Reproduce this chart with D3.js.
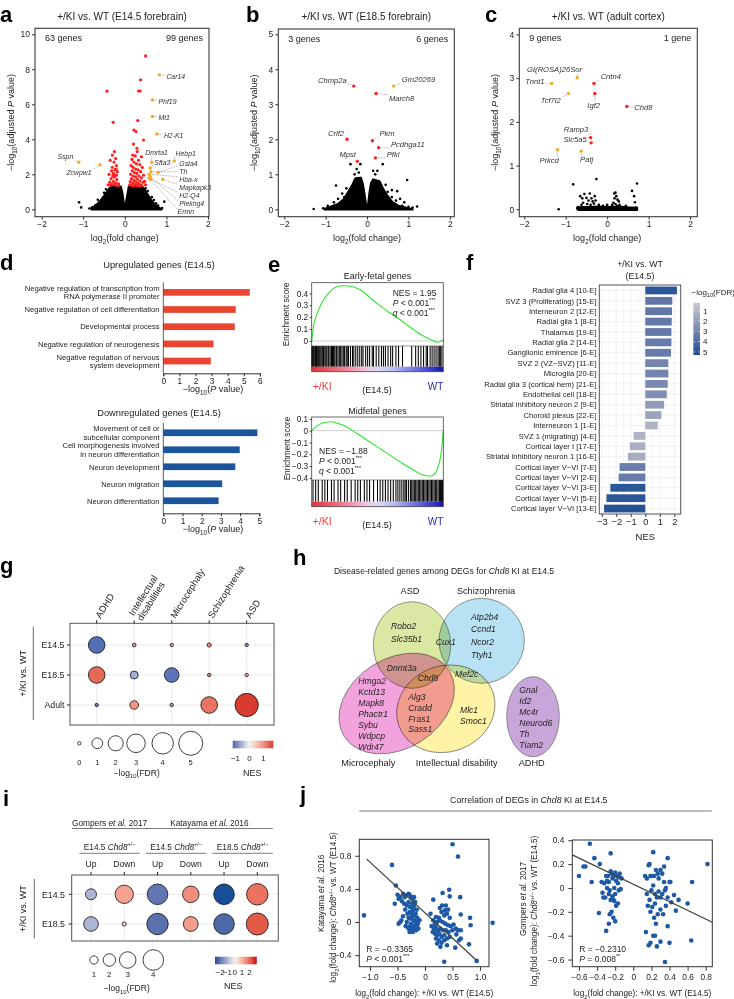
<!DOCTYPE html>
<html>
<head>
<meta charset="utf-8">
<script src="https://cdn.jsdelivr.net/npm/d3@7/dist/d3.min.js"></script>
<style>
  body { margin: 0; background: #fff; }
</style>
</head>
<body>
<svg id="fig" width="734" height="999"></svg>
<script>
// ---------------- data ----------------
// a-c volcano plots: [log2FC, -log10 adj P]
const aCloud = [[-0.82,0],[-0.75,0.12],[-0.66,0.3],[-0.58,0.5],[-0.5,0.75],[-0.43,1.0],[-0.37,1.2],[-0.32,1.3],[-0.1,1.3],[-0.06,0.9],[-0.035,0.5],[-0.015,0.15],[0,0.03],[0.015,0.15],[0.04,0.5],[0.07,0.9],[0.1,1.3],[0.42,1.3],[0.48,1.1],[0.56,0.8],[0.64,0.5],[0.72,0.28],[0.8,0.12],[0.88,0],[-0.82,0]];
const aBlack = [[-1.1,0.4],[-1.05,0.11],[-0.79,0.11],[0.95,0.44],[0.7,0.53],[-0.65,0.55],[-0.6,0.35],[-0.7,0.25],[0.75,0.35],[0.8,0.22],[0.65,0.7],[-0.5,0.95],[0.55,1.05],[-0.45,1.15],[0.5,1.2],[-0.85,0.05],[0.9,0.08]];
const aRed = [[-0.43,6.75],[-0.28,4.97],[-0.25,3.3],[-0.3,3.1],[-0.22,2.9],[-0.35,2.8],[-0.26,2.7],[-0.2,2.5],[-0.3,2.4],[-0.24,2.25],[-0.32,2.2],[-0.18,2.15],[-0.28,2.05],[-0.38,2.0],[-0.2,1.95],[-0.25,1.85],[-0.33,1.75],[-0.19,1.7],[-0.27,1.6],[-0.36,1.55],[-0.22,1.5],[-0.3,1.45],[-0.15,1.45],[-0.4,1.4],[-0.17,1.35],[-0.24,1.4],[-0.34,1.38],[-0.29,1.9],[-0.21,2.3],[-0.26,2.0],
  [0.5,8.76],[0.38,7.39],[0.33,6.76],[0.37,6.76],[0.31,5.07],[0.22,4.53],[0.27,4.44],[0.45,3.96],[0.21,3.73],[0.29,3.49],[0.3,3.3],[0.19,3.1],[0.25,3.05],[0.4,3.0],[0.17,2.85],[0.33,2.8],[0.22,2.7],[0.28,2.6],[0.36,2.55],[0.15,2.5],[0.2,2.4],[0.42,2.4],[0.26,2.3],[0.32,2.25],[0.18,2.2],[0.38,2.15],[0.23,2.1],[0.29,2.05],[0.14,2.0],[0.45,1.95],[0.2,1.9],[0.34,1.9],[0.26,1.85],[0.4,1.8],[0.16,1.75],[0.3,1.72],[0.22,1.65],[0.36,1.62],[0.13,1.58],[0.27,1.55],[0.44,1.55],[0.19,1.5],[0.32,1.48],[0.24,1.42],[0.38,1.42],[0.15,1.38],[0.29,1.36],[0.41,1.35],[0.21,1.34],[0.35,1.33],[0.48,1.6],[0.5,1.4],[0.12,1.4]];
// labelled genes: [name, log2FC, -log10P, colour class]
const aGenes = [["Car14",0.83,7.68,"o"],["Phf19",0.665,6.25,"o"],["Mt1",0.665,5.3,"o"],["H2-K1",0.77,4.3,"o"],["Dmrta1",0.65,2.69,"o"],["Hebp1",1.19,2.76,"o"],["Sfta3",0.61,2.36,"o"],["Gsta4",0.8,2.1,"o"],["Th",0.63,2.15,"o"],["Hba-x",0.585,2.0,"o"],["Mapkapk3",0.914,1.71,"o"],["H2-Q4",0.585,1.77,"o"],["Plekhg4",0.61,1.87,"o"],["Ermn",0.625,1.71,"o"],["Sspn",-1.106,2.69,"o"],["Zcwpw1",-0.6,2.55,"o"]];
const aLabelAt = {"Car14":[1.0,7.45,"start"],"Phf19":[0.81,6.02,"start"],"Mt1":[0.81,5.1,"start"],"H2-K1":[0.94,4.08,"start"],"Dmrta1":[0.766,3.1,"middle"],"Hebp1":[1.22,3.05,"start"],"Sfta3":[0.709,2.55,"start"],"Gsta4":[1.31,2.5,"start"],"Th":[1.31,2.04,"start"],"Hba-x":[1.31,1.58,"start"],"Mapkapk3":[1.31,1.12,"start"],"H2-Q4":[1.31,0.66,"start"],"Plekhg4":[1.31,0.2,"start"],"Ermn":[1.27,-0.26,"start"],"Sspn":[-1.24,2.9,"end"],"Zcwpw1":[-0.797,1.99,"end"]};

const bCloud = [[-1.05,0],[-0.9,0.06],[-0.7,0.15],[-0.55,0.3],[-0.45,0.5],[-0.35,0.7],[-0.28,0.88],[-0.15,0.9],[-0.1,0.7],[-0.06,0.4],[-0.03,0.15],[0,0.05],[0.03,0.15],[0.06,0.45],[0.1,0.75],[0.15,0.85],[0.3,0.8],[0.38,0.6],[0.48,0.4],[0.6,0.22],[0.75,0.1],[0.95,0.04],[1.1,0],[-1.05,0]];
const bBlack = [[-1.29,0.01],[-1.06,0.03],[-0.9,0.03],[-0.75,0.68],[-0.4,1.29],[-0.16,1.29],[0.38,1.29],[0.97,0.84],[0.73,0.52],[0.6,0.55],[0.85,0.1],[1.0,0.07],[1.21,0.08],[1.1,0.05],[-0.6,0.45],[-0.55,0.35],[-0.5,0.6],[-0.3,1.0],[-0.2,1.05],[-0.25,1.15],[0.2,1.0],[0.25,1.1],[0.15,1.1],[0.45,0.7],[0.5,0.5],[0.6,0.35],[0.7,0.25],[-0.8,0.2],[-0.7,0.3],[-0.95,0.1],[0.9,0.2],[0.8,0.3]];
const bGenes = [["Chmp2a",-0.32,3.52,"r"],["Gm20269",0.645,3.52,"o"],["March8",0.218,3.31,"r"],["Crlf2",-0.484,2.0,"r"],["Pkm",0.129,1.96,"r"],["Pcdhga11",0.282,1.76,"r"],["Pfkl",0.2,1.47,"r"],["Mpst",-0.234,1.37,"r"]];
const bLabelAt = {"Chmp2a":[-0.49,3.62,"end"],"Gm20269":[0.84,3.63,"start"],"March8":[0.53,3.1,"start"],"Crlf2":[-0.556,2.1,"end"],"Pkm":[0.3,2.09,"start"],"Pcdhga11":[0.58,1.77,"start"],"Pfkl":[0.476,1.49,"start"],"Mpst":[-0.27,1.49,"end"]};

const cCloud = [[-0.72,-0.01],[-0.72,0.04],[-0.45,0.05],[-0.2,0.06],[0,0.05],[0.25,0.06],[0.5,0.04],[0.72,0.03],[0.72,-0.01],[-0.72,-0.01]];
const cBlack = [[-1.17,0.0],[-0.82,0.57],[-0.26,0.69],[0.72,0.59],[0.6,0.42],[0.65,0.3],[0.67,0.16],[-0.65,0.3],[-0.6,0.25],[-0.55,0.35],[-0.5,0.26],[-0.45,0.2],[-0.42,0.36],[-0.38,0.25],[-0.35,0.18],[-0.3,0.3],[-0.58,0.15],[-0.48,0.12],[-0.4,0.1],[-0.32,0.13],[-0.62,0.1],[-0.28,0.2],[-0.52,0.05],[0.17,0.36],[0.2,0.38],[0.22,0.3],[0.18,0.25],[0.25,0.22],[0.28,0.18],[0.15,0.15],[0.2,0.12],[0.3,0.1],[0.24,0.08],[0.12,0.1],[-0.2,0.1],[-0.1,0.08],[0.0,0.1],[0.45,0.08],[-0.7,0.05],[0.7,0.04]];
const cGenes = [["Gt(ROSA)26Sor",-0.724,3.01,"o"],["Tnnt1",-1.336,2.88,"o"],["Tcf7l2",-0.934,2.65,"o"],["Cntn4",-0.32,2.88,"r"],["Igf2",-0.298,2.65,"r"],["Chd8",0.475,2.35,"r"],["Ramp3",-0.40,1.64,"r"],["Slc5a5",-0.386,1.52,"r"],["Prkcd",-1.2,1.36,"o"],["Patj",-0.628,1.33,"o"]];
const cLabelAt = {"Gt(ROSA)26Sor":[-1.27,3.13,"middle"],"Tnnt1":[-1.51,2.87,"end"],"Tcf7l2":[-1.12,2.43,"end"],"Cntn4":[-0.157,2.98,"start"],"Igf2":[-0.326,2.32,"middle"],"Chd8":[0.654,2.27,"start"],"Ramp3":[-0.455,1.76,"end"],"Slc5a5":[-0.495,1.54,"end"],"Prkcd":[-1.40,1.06,"middle"],"Patj":[-0.495,1.07,"middle"]};

// d GO terms
const dUpTerms = [["Negative regulation of transcription from","RNA polymerase II promoter"],["Negative regulation of cell differentiation"],["Developmental process"],["Negative regulation of neurogenesis"],["Negative regulation of nervous","system development"]];
const dUpVals = [5.37, 4.5, 4.44, 3.12, 2.95];
const dDownTerms = [["Movement of cell or","subcellular component"],["Cell morphogenesis involved","in neuron differentiation"],["Neuron development"],["Neuron migration"],["Neuron differentiation"]];
const dDownVals = [4.9, 3.98, 3.75, 3.07, 2.88];

// e GSEA running enrichment score [rank fraction, ES] and gene hits
const eEarlyES = [[0,0],[0.013,0.12],[0.038,0.22],[0.076,0.32],[0.127,0.40],[0.177,0.45],[0.228,0.465],[0.278,0.462],[0.329,0.45],[0.38,0.423],[0.43,0.378],[0.48,0.33],[0.53,0.288],[0.58,0.246],[0.633,0.21],[0.684,0.17],[0.734,0.126],[0.785,0.087],[0.835,0.05],[0.886,0.022],[0.924,0.003],[0.949,-0.008],[0.975,-0.006],[1,0.014]];
const eEarlyHits = [0,0.005,0.012,0.018,0.025,0.03,0.036,0.042,0.05,0.055,0.062,0.07,0.078,0.085,0.09,0.1,0.108,0.115,0.125,0.13,0.14,0.15,0.158,0.165,0.175,0.185,0.19,0.2,0.21,0.22,0.23,0.24,0.25,0.262,0.27,0.28,0.295,0.31,0.32,0.335,0.35,0.365,0.38,0.39,0.41,0.425,0.44,0.46,0.47,0.49,0.51,0.53,0.545,0.56,0.58,0.6,0.615,0.64,0.66,0.69,0.76,0.79,0.81,0.83,0.85,0.87,0.88,0.9,0.915,0.93,0.945,0.96,0.97,0.98,0.99];
const eMidES = [[0,0.003],[0.089,0.067],[0.152,0.076],[0.203,0.06],[0.253,0.04],[0.304,0.005],[0.38,-0.05],[0.456,-0.106],[0.532,-0.162],[0.608,-0.218],[0.684,-0.274],[0.76,-0.325],[0.81,-0.358],[0.861,-0.38],[0.899,-0.386],[0.937,-0.364],[0.962,-0.3],[0.98,-0.218],[0.992,-0.106],[1,0]];
const eMidHits = [0.01,0.03,0.05,0.08,0.1,0.12,0.15,0.17,0.2,0.22,0.25,0.27,0.3,0.33,0.35,0.37,0.4,0.42,0.44,0.47,0.5,0.52,0.54,0.56,0.58,0.6,0.62,0.64,0.655,0.67,0.685,0.7,0.71,0.72,0.735,0.75,0.76,0.77,0.78,0.79,0.8,0.81,0.82,0.83,0.84,0.85,0.86,0.87,0.88,0.89,0.9,0.91,0.92,0.93,0.94,0.95,0.96,0.97,0.975,0.98,0.985,0.99,0.995];

// f cell-type enrichment
const fCats = ["Radial glia 4 [10-E]","SVZ 3 (Proliferating) [15-E]","Interneuron 2 [12-E]","Radial glia 1 [8-E]","Thalamus [19-E]","Radial glia 2 [14-E]","Ganglionic eminence [6-E]","SVZ 2 (VZ\u2212SVZ) [11-E]","Microglia [20-E]","Radial glia 3 (cortical hem) [21-E]","Endothelial cell [18-E]","Striatal inhibitory neuron 2 [9-E]","Choroid plexus [22-E]","Interneuron 1 [1-E]","SVZ 1 (migrating) [4-E]","Cortical layer I [17-E]","Striatal inhibitory neuron 1 [16-E]","Cortical layer V\u2212VI [7-E]","Cortical layer V\u2212VI [2-E]","Cortical layer V\u2212VI [3-E]","Cortical layer V\u2212VI [5-E]","Cortical layer V\u2212VI [13-E]"];
const fNES = [2.18,1.86,1.84,1.82,1.8,1.8,1.77,1.59,1.59,1.55,1.48,1.3,1.11,0.86,-0.8,-1.07,-1.2,-1.77,-1.84,-2.41,-2.68,-2.84];
const fFDR = [5.0,3.6,3.6,3.5,3.5,3.4,3.4,3.0,3.0,2.8,2.6,2.1,1.7,1.1,1.1,1.3,1.4,3.3,3.4,5.0,5.0,5.1];

// g disease gene sets
const gCols = ["ADHD","Intellectual disabilities","Microcephaly","Schizophrenia","ASD"];
const gColLines = [["ADHD"],["Intellectual","disabilities"],["Microcephaly"],["Schizophrenia"],["ASD"]];
const gRows = ["E14.5","E18.5","Adult"];
const gFDR = [[2.4,0.12,0.1,0.15,0.1],[2.4,0.55,1.86,0.06,0.06],[0.06,0.65,0.08,2.4,4.7]];
const gNES = [[-1.15,0.9,0.8,1.0,-0.8],[1.35,-0.6,-1.1,1.0,0.7],[-1.0,0.95,-0.6,1.25,1.7]];
const gSizeLegend = [0,1,2,3,4,5];
const gNesTicks = [-1,0,1];

// h Venn gene lists
const hSets = ["ASD","Schizophrenia","Microcephaly","Intellectual disability","ADHD"];
const hGenes = [
  {genes:["Robo2","Slc35b1"], region:"ASD"},
  {genes:["Cux1"], region:"ASD+Schizophrenia"},
  {genes:["Atp2b4","Ccnd1","Ncor2","Ttyh1"], region:"Schizophrenia"},
  {genes:["Dnmt3a"], region:"ASD+Microcephaly"},
  {genes:["Chd8"], region:"ASD+Microcephaly+ID"},
  {genes:["Mef2c"], region:"Schizophrenia+ID"},
  {genes:["Hmga2","Kctd13","Mapk8","Phactr1","Sybu","Wdpcp","Wdr47"], region:"Microcephaly"},
  {genes:["Alg3","Cradd","Fras1","Sass1"], region:"Microcephaly+ID"},
  {genes:["Mlc1","Smoc1"], region:"ID"},
  {genes:["Gnal","Id2","Mc4r","Neurod6","Th","Tiam2"], region:"ADHD"}
];

// i comparison with published Chd8+/- data
const iCols = ["Up","Down","Up","Down","Up","Down"];
const iRows = ["E14.5","E18.5"];
const iFDR = [[1.66,3.45,4.0,3.0,4.0,4.2],[2.55,0,4.2,2.6,4.0,4.35]];
const iNES = [[-1.0,1.25,-2.0,1.5,-2.75,1.9],[-1.0,0.7,-2.1,1.3,-2.25,2.2]];
const iSizeLegend = [1,2,3,4];
const iNesTicks = [-2,-1,0,1,2];

// j correlation scatter [KI log2FC, published log2FC]
const jKat = [[-0.6,0.69],[-0.53,0.44],[-0.55,0.22],[-0.5,0.33],[-0.48,0.28],[-0.45,0.3],[-0.4,0.34],[-0.35,0.32],[-0.3,0.34],[-0.28,0.33],[-0.25,0.3],[-0.22,0.28],[-0.2,0.3],[-0.42,0.25],[-0.38,0.22],[-0.33,0.2],[-0.3,0.24],[-0.27,0.18],[-0.24,0.22],[-0.2,0.2],[-0.18,0.24],[-0.15,0.15],[-0.36,0.15],[-0.32,0.1],[-0.28,0.12],[-0.25,0.1],[-0.22,0.14],[-0.2,0.08],[-0.17,0.1],[-0.14,0.05],[-0.3,0.05],[-0.26,0.04],[-0.23,0.06],[-0.2,0.02],[-0.17,0.0],[-0.13,-0.02],[-0.4,0.07],[-0.45,0.0],[-0.48,-0.02],[-0.43,0.02],[-0.35,-0.05],[-0.3,-0.08],[-0.27,-0.05],[-0.24,-0.08],[-0.2,-0.1],[-0.16,-0.1],[-0.12,-0.08],[-0.28,-0.12],[-0.22,-0.12],[-0.33,0.0],[-0.19,-0.05],[-0.15,-0.06],[-0.25,-0.02],[-0.1,0.02],[-0.37,0.3],[-0.21,0.17],[-1.11,0.08],
  [0.5,0.94],[0.6,0.79],[0.44,0.39],[0.32,0.35],[0.45,0.31],[0.15,0.27],[0.64,0.3],[0.38,0.2],[0.42,0.15],[0.3,0.12],[0.35,0.08],[0.4,0.1],[0.45,0.05],[0.25,0.05],[0.2,0.06],[0.15,0.02],[0.18,-0.02],[0.22,0.0],[0.27,0.02],[0.32,0.0],[0.37,-0.02],[0.42,-0.04],[0.47,-0.05],[0.52,-0.03],[0.12,-0.05],[0.16,-0.08],[0.2,-0.06],[0.24,-0.1],[0.28,-0.08],[0.33,-0.1],[0.38,-0.1],[0.43,-0.12],[0.5,-0.1],[0.56,-0.08],[0.6,-0.1],[0.65,-0.1],[0.18,-0.14],[0.22,-0.16],[0.26,-0.14],[0.3,-0.18],[0.35,-0.16],[0.4,-0.2],[0.45,-0.18],[0.2,-0.2],[0.25,-0.22],[0.3,-0.25],[0.35,-0.22],[0.28,-0.3],[0.22,-0.26],[0.4,-0.28],[0.55,-0.31],[0.62,-0.22],[0.65,-0.2],[0.8,-0.27],[0.82,0.05],[0.83,-0.04],[0.65,0.09],[0.35,-0.48],[0.94,-0.47],[1.23,-0.01],[0.1,0.1],[0.27,0.17],[0.31,0.2],[0.57,-0.15],[0.36,0.14],[0.2,-0.1],[0.14,-0.12]];
const jKatFit = {slope: -0.613, intercept: 0.110, from: -1.06, to: 0.93};
const jGom = [[-0.6,0.1],[-0.55,0.18],[-0.53,0.18],[-0.48,0.37],[-0.46,0.05],[-0.43,0.25],[-0.37,0.2],[-0.35,0.05],[-0.33,-0.08],[-0.3,-0.36],[-0.28,0.1],[-0.27,0.05],[-0.26,-0.02],[-0.25,0.29],[-0.24,0.12],[-0.23,0.08],[-0.22,0.1],[-0.21,0.0],[-0.2,-0.05],[-0.19,0.06],[-0.18,0.1],[-0.17,0.04],[-0.16,-0.02],[-0.15,0.12],[-0.14,-0.01],[-0.13,0.08],[-0.29,0.0],[-0.27,-0.05],[-0.25,-0.1],[-0.23,-0.07],[-0.21,-0.11],[-0.19,-0.15],[-0.17,-0.13],[-0.24,-0.2],[-0.22,-0.25],[-0.2,-0.28],[-0.26,-0.22],[-0.31,-0.08],[-0.34,-0.04],[-0.32,0.04],[-0.3,0.1],[-0.25,0.14],[-0.2,0.13],[-0.16,0.09],[-0.27,-0.3],[-0.22,-0.1],[-0.38,-0.21],[-0.29,0.06],
  [0.13,0.1],[0.15,0.08],[0.17,0.19],[0.18,0.2],[0.2,0.1],[0.22,0.3],[0.23,0.1],[0.25,0.15],[0.27,0.12],[0.3,0.15],[0.32,0.12],[0.34,0.18],[0.38,0.25],[0.15,-0.05],[0.18,-0.1],[0.2,-0.02],[0.22,0.02],[0.24,-0.05],[0.26,-0.08],[0.28,-0.03],[0.3,-0.08],[0.32,-0.05],[0.34,0.05],[0.36,0.0],[0.38,-0.08],[0.4,0.05],[0.42,-0.12],[0.45,-0.06],[0.47,-0.19],[0.5,-0.1],[0.16,-0.15],[0.19,-0.2],[0.21,-0.16],[0.23,-0.25],[0.25,-0.3],[0.27,-0.22],[0.3,-0.18],[0.33,-0.22],[0.36,-0.15],[0.38,-0.32],[0.14,-0.37],[0.17,-0.48],[0.19,-0.46],[0.22,-0.4],[0.24,-0.4],[0.26,-0.49],[0.3,-0.45],[0.35,-0.62],[0.4,-0.46],[0.64,-0.44],[0.6,-0.13],[0.65,0.05],[0.82,0.2],[0.41,0.05],[0.28,0.08],[0.19,0.1],[0.24,-0.13],[0.35,-0.02]];
const jGomFit = {slope: -0.365, intercept: 0.031, from: -0.674, to: 0.873};

// ---------------- helpers ----------------
const svg = d3.select("#fig").attr("font-family", "'Liberation Sans', Arial, Helvetica, sans-serif");
const INK = "#222";

// text with rich segments: [["log"],["10","sub"],["P","i"]]
function txt(g, x, y, s, o = {}) {
  const size = o.size || 8.5;
  const t = g.append("text").attr("x", x).attr("y", y)
    .attr("font-size", size).attr("fill", o.fill || INK)
    .attr("text-anchor", o.anchor || "start");
  if (o.weight) t.attr("font-weight", o.weight);
  if (o.rotate) t.attr("transform", `rotate(${o.rotate},${x},${y})`);
  const segs = Array.isArray(s) ? s : [[s]];
  let shift = 0;
  segs.forEach(seg => {
    const str = seg[0], flags = (seg[1] || "").split(" ");
    const sp = t.append("tspan").text(str);
    let target = 0;
    if (flags.includes("sub")) { target = size * 0.3; sp.attr("font-size", size * 0.7); }
    if (flags.includes("sup")) { target = -size * 0.45; sp.attr("font-size", size * 0.65); }
    if (flags.includes("i") || o.italic) sp.attr("font-style", "italic");
    if (target !== shift) { sp.attr("dy", target - shift); shift = target; }
  });
  return t;
}
function letter(x, y, s) { txt(svg, x, y, s, {size: 22, weight: "bold", fill: "#000"}); }
function styleAxis(a, size) {
  a.attr("font-family", null).attr("font-size", null);
  a.select(".domain").remove();
  a.selectAll("line").attr("stroke", "#333");
  a.selectAll("text").attr("fill", INK).attr("font-size", size || 8.5);
}
const fmt1 = d => d === 0 ? "0" : d3.format(".1f")(d);
const fmtInt = d3.format("d");
const defs = svg.append("defs");
function gradient(id, stops, vertical) {
  const lg = defs.append("linearGradient").attr("id", id)
    .attr("x1", 0).attr("y1", 0).attr("x2", vertical ? 0 : 1).attr("y2", vertical ? 1 : 0);
  stops.forEach(([o, c]) => lg.append("stop").attr("offset", o).attr("stop-color", c));
}

// ---------------- a-c volcano ----------------
const RED = "#ff1f1f", ORANGE = "#f7a823";
function volcano(p) {
  const x = d3.scaleLinear().domain(p.xd).range([p.l, p.r]);
  const y = d3.scaleLinear().domain(p.yd).range([p.b, p.t]);
  const g = svg.append("g");
  g.append("path").datum(p.cloud)
    .attr("d", d3.line().x(d => x(d[0])).y(d => y(d[1])))
    .attr("fill", "#000").attr("stroke", "#000").attr("stroke-width", 2.4).attr("stroke-linejoin", "round");
  g.selectAll(".bk").data(p.black).join("circle")
    .attr("cx", d => x(d[0])).attr("cy", d => y(d[1])).attr("r", 1.3).attr("fill", "#000");
  g.selectAll(".rd").data(p.red).join("circle")
    .attr("cx", d => x(d[0])).attr("cy", d => y(d[1])).attr("r", 1.6).attr("fill", RED);
  // gene labels with leader lines
  p.genes.forEach(([name, fc, lp, cls]) => {
    const [lx, ly, anchor] = p.labelAt[name];
    const px = x(fc), py = y(lp);
    const t = txt(g, x(lx), y(ly), name, {size: p.labelSize, italic: true, anchor: anchor, fill: "#333"});
    const bb = t.node().getBBox();
    const ex = Math.max(bb.x - 1, Math.min(px, bb.x + bb.width + 1));
    const ey = Math.max(bb.y + 1, Math.min(py, bb.y + bb.height - 1));
    if (Math.hypot(ex - px, ey - py) > 3) {
      g.append("line").attr("x1", px).attr("y1", py).attr("x2", ex).attr("y2", ey)
        .attr("stroke", "#888").attr("stroke-width", 0.6).attr("stroke-dasharray", "1.6,1.1");
    }
    g.append("circle").attr("cx", px).attr("cy", py).attr("r", 1.7).attr("fill", cls === "o" ? ORANGE : RED);
  });
  g.append("rect").attr("x", p.l).attr("y", p.t).attr("width", p.r - p.l).attr("height", p.b - p.t)
    .attr("fill", "none").attr("stroke", "#3a3a3a").attr("stroke-width", 1.1);
  const ax = g.append("g").attr("transform", `translate(0,${p.b})`)
    .call(d3.axisBottom(x).tickValues([-2, -1, 0, 1, 2]).tickFormat(fmtInt).tickSize(3).tickPadding(1.5));
  styleAxis(ax);
  const ay = g.append("g").attr("transform", `translate(${p.l},0)`)
    .call(d3.axisLeft(y).tickValues(p.yt).tickFormat(fmtInt).tickSize(3).tickPadding(2));
  styleAxis(ay);
  txt(g, (p.l + p.r) / 2, 20, p.title, {size: 10, anchor: "middle"});
  txt(g, p.l + 10, p.t + 12.5, p.nl, {size: 9});
  txt(g, p.r - 6, p.t + 12.5, p.nr, {size: 9, anchor: "end"});
  txt(g, p.l - 21, (p.t + p.b) / 2, [["\u2212log"], ["10", "sub"], ["(adjusted "], ["P", "i"], [" value)"]], {size: 9, anchor: "middle", rotate: -90});
  txt(g, x(0), 241, [["log"], ["2", "sub"], ["(fold change)"]], {size: 9, anchor: "middle"});
}
volcano({l: 35, r: 209, t: 28.3, b: 216.7, xd: [-2.16, 2.025], yd: [-0.42, 10.34], yt: [0, 2, 4, 6, 8, 10],
  cloud: aCloud, black: aBlack, red: aRed, genes: aGenes, labelAt: aLabelAt, labelSize: 6.9,
  title: "+/KI vs. WT (E14.5 forebrain)", nl: "63 genes", nr: "99 genes"});
volcano({l: 278.3, r: 454.3, t: 29, b: 216.7, xd: [-2.145, 2.11], yd: [-0.21, 5.15], yt: [0, 1, 2, 3, 4, 5],
  cloud: bCloud, black: bBlack, red: [], genes: bGenes, labelAt: bLabelAt, labelSize: 7.6,
  title: "+/KI vs. WT (E18.5 forebrain)", nl: "3 genes", nr: "6 genes"});
volcano({l: 519.3, r: 697.3, t: 28.3, b: 216.7, xd: [-2.12, 2.175], yd: [-0.17, 4.14], yt: [0, 1, 2, 3, 4],
  cloud: cCloud, black: cBlack, red: [], genes: cGenes, labelAt: cLabelAt, labelSize: 7.6,
  title: "+/KI vs. WT (adult cortex)", nl: "9 genes", nr: "1 gene"});
letter(0, 22, "a"); letter(246, 22, "b"); letter(485, 22, "c");

// ---------------- d GO bars ----------------
function goBars(p) {
  const x = d3.scaleLinear().domain([0, p.max]).range([163.3, 163.3 + p.unit * p.max]);
  const y = d3.scalePoint().domain(d3.range(p.terms.length)).range(p.yr);
  const g = svg.append("g");
  txt(g, 159, p.titleY, p.title, {size: 9.3, anchor: "middle"});
  g.selectAll("rect").data(p.vals).join("rect")
    .attr("x", x(0)).attr("y", (d, i) => y(i) - 3.3).attr("width", d => x(d) - x(0)).attr("height", 6.7)
    .attr("fill", p.color);
  p.terms.forEach((lines, i) => {
    lines.forEach((ln, k) => txt(g, 159.5, y(i) + 2.8 + (k - (lines.length - 1) / 2) * 8.4, ln, {size: 7.6, anchor: "end"}));
  });
  g.append("line").attr("x1", x(0)).attr("x2", x(0)).attr("y1", p.yr[0] - 10).attr("y2", p.axisY).attr("stroke", "#333").attr("stroke-width", 0.8);
  const ax = g.append("g").attr("transform", `translate(0,${p.axisY})`)
    .call(d3.axisBottom(x).tickValues(d3.range(0, p.max + 1)).tickFormat(fmtInt).tickSize(3).tickPadding(1.5));
  ax.select(".domain").attr("stroke", "#333");
  ax.attr("font-family", null).attr("font-size", null);
  ax.selectAll("text").attr("font-size", 8.3).attr("fill", INK);
  ax.selectAll("line").attr("stroke", "#333");
  txt(g, 213, p.axisY + 18.5, [["\u2212log"], ["10", "sub"], ["("], ["P", "i"], [" value)"]], {size: 9, anchor: "middle"});
}
goBars({terms: dUpTerms, vals: dUpVals, max: 6, unit: 16.1, yr: [292.3, 361], axisY: 373.3, color: "#ea4530",
  title: "Upregulated genes (E14.5)", titleY: 268});
goBars({terms: dDownTerms, vals: dDownVals, max: 5, unit: 19.2, yr: [432.7, 500.7], axisY: 513.3, color: "#1b559b",
  title: "Downregulated genes (E14.5)", titleY: 416});
letter(0, 270, "d");

// ---------------- e GSEA ----------------
gradient("rankStrip", [[0, "#e2323a"], [0.25, "#ef7f92"], [0.4, "#f2bfd8"], [0.5, "#dcd6f2"], [0.62, "#b8bdf0"], [0.8, "#6a6ce0"], [1, "#1414b0"]]);
function gsea(p) {
  const x = d3.scaleLinear().domain([0, 1]).range([311.7, 443.3]);
  const y = d3.scaleLinear().domain(p.yd).range([p.esB, p.t]);
  const g = svg.append("g");
  txt(g, 377.5, p.t - 3.5, p.title, {size: 9, anchor: "middle"});
  g.append("line").attr("x1", x(0)).attr("x2", x(1)).attr("y1", y(0)).attr("y2", y(0)).attr("stroke", "#bbb").attr("stroke-width", 0.7);
  g.append("path").datum(p.es)
    .attr("d", d3.line().x(d => x(d[0])).y(d => y(d[1])).curve(d3.curveMonotoneX))
    .attr("fill", "none").attr("stroke", "#2be82b").attr("stroke-width", 1.1);
  g.selectAll(".hit").data(p.hits).join("line")
    .attr("x1", d => x(d)).attr("x2", d => x(d)).attr("y1", p.esB).attr("y2", p.barB)
    .attr("stroke", "#000").attr("stroke-width", 1.05);
  g.append("rect").attr("x", x(0)).attr("y", p.barB).attr("width", x(1) - x(0)).attr("height", p.stripB - p.barB).attr("fill", "url(#rankStrip)");
  g.append("rect").attr("x", x(0)).attr("y", p.t).attr("width", x(1) - x(0)).attr("height", p.stripB - p.t)
    .attr("fill", "none").attr("stroke", "#444").attr("stroke-width", 0.8);
  g.append("line").attr("x1", x(0)).attr("x2", x(1)).attr("y1", p.esB).attr("y2", p.esB).attr("stroke", "#444").attr("stroke-width", 0.6);
  const ay = g.append("g").attr("transform", `translate(${x(0)},0)`)
    .call(d3.axisLeft(y).tickValues(p.yt).tickFormat(fmt1).tickSize(2).tickPadding(1.5));
  styleAxis(ay, 8.3);
  txt(g, 289.5, (p.t + p.esB) / 2, "Enrichment score", {size: 8.2, anchor: "middle", rotate: -90});
  p.stats.forEach((s, k) => txt(g, p.sx, p.sy + k * 10, s, {size: 8.5}));
  txt(g, 312.7, p.stripB + 18, "+/KI", {size: 10.5, fill: "#f03c3c"});
  txt(g, 443.3, p.stripB + 18, "WT", {size: 10, fill: "#2a2ab4", anchor: "end"});
  txt(g, 377, p.stripB + 21.5, "(E14.5)", {size: 9, anchor: "middle"});
}
gsea({title: "Early-fetal genes", t: 282.7, esB: 346, barB: 366.7, stripB: 371.7, yd: [-0.042, 0.49], yt: [0, 0.1, 0.2, 0.3, 0.4],
  es: eEarlyES, hits: eEarlyHits, sx: 392.7, sy: 295.5,
  stats: [[["NES = 1.95"]], [["P", "i"], [" < 0.001"], ["***", "sup"]], [["q", "i"], [" < 0.001"], ["***", "sup"]]]});
gsea({title: "Midfetal genes", t: 417, esB: 480, barB: 501.7, stripB: 506.7, yd: [-0.418, 0.116], yt: [0.1, 0, -0.1, -0.2, -0.3, -0.4],
  es: eMidES, hits: eMidHits, sx: 319, sy: 454,
  stats: [[["NES = \u22121.88"]], [["P", "i"], [" < 0.001"], ["***", "sup"]], [["q", "i"], [" < 0.001"], ["***", "sup"]]]});
letter(268, 272, "e");

// ---------------- f cell types ----------------
(function () {
  const g = svg.append("g");
  const x = d3.scaleLinear().domain([-3.17, 2.44]).range([599.3, 680.7]);
  const y = d3.scaleBand().domain(fCats).range([285, 514]).paddingInner(0.25).paddingOuter(0.15);
  const col = d3.scaleLinear().domain([0.2, 5.3]).range(["#cbcccf", "#1a4f93"]).interpolate(d3.interpolateLab);
  d3.range(-3, 2.5, 0.5).forEach(v => g.append("line").attr("x1", x(v)).attr("x2", x(v)).attr("y1", 285).attr("y2", 514)
    .attr("stroke", Number.isInteger(v) ? "#e6e6e6" : "#f2f2f2").attr("stroke-width", 0.6));
  fCats.forEach(c => g.append("line").attr("x1", 599.3).attr("x2", 680.7).attr("y1", y(c) + y.bandwidth() / 2).attr("y2", y(c) + y.bandwidth() / 2)
    .attr("stroke", "#e6e6e6").attr("stroke-width", 0.6));
  g.selectAll(".bar").data(fCats).join("rect")
    .attr("x", (c, i) => x(Math.min(0, fNES[i]))).attr("y", c => y(c))
    .attr("width", (c, i) => Math.abs(x(fNES[i]) - x(0))).attr("height", y.bandwidth())
    .attr("fill", (c, i) => col(fFDR[i]));
  g.append("rect").attr("x", 599.3).attr("y", 285).attr("width", 81.4).attr("height", 229)
    .attr("fill", "none").attr("stroke", "#555").attr("stroke-width", 1);
  fCats.forEach(c => txt(g, 596.5, y(c) + y.bandwidth() / 2 + 2.7, c, {size: 7.6, anchor: "end"}));
  const ax = g.append("g").attr("transform", "translate(0,514)")
    .call(d3.axisBottom(x).tickValues([-3, -2, -1, 0, 1, 2]).tickFormat(fmtInt).tickSize(3).tickPadding(1.5));
  styleAxis(ax, 9.3);
  txt(g, x(0), 539.5, "NES", {size: 9.5, anchor: "middle"});
  txt(g, 640, 267, "+/KI vs. WT", {size: 8.8, anchor: "middle"});
  txt(g, 640, 278.5, "(E14.5)", {size: 8.8, anchor: "middle"});
  // colour bar
  gradient("fdrBar", [[0, col(0.2)], [0.5, col(2.75)], [1, col(5.3)]], true);
  const cy = d3.scaleLinear().domain([0.2, 5.3]).range([302.7, 355]);
  g.append("rect").attr("x", 693.3).attr("y", cy(0.2)).attr("width", 6.7).attr("height", cy(5.3) - cy(0.2)).attr("fill", "url(#fdrBar)");
  [1, 2, 3, 4, 5].forEach(v => {
    g.append("line").attr("x1", 693.3).attr("x2", 695).attr("y1", cy(v)).attr("y2", cy(v)).attr("stroke", "#fff").attr("stroke-width", 0.6);
    g.append("line").attr("x1", 698.3).attr("x2", 700).attr("y1", cy(v)).attr("y2", cy(v)).attr("stroke", "#fff").attr("stroke-width", 0.6);
    txt(g, 703, cy(v) + 2.8, String(v), {size: 8});
  });
  txt(g, 691.5, 294.5, [["\u2212log"], ["10", "sub"], ["(FDR)"]], {size: 8});
})();
letter(466, 270, "f");

// ---------------- g disease bubble plot ----------------
function divergingBar(g, id, scale, x0, x1, y0, h, dom) {
  const n = 10, st = d3.range(n + 1).map(k => [k / n, scale(dom[0] + (dom[1] - dom[0]) * k / n)]);
  gradient(id, st);
  g.append("rect").attr("x", x0).attr("y", y0).attr("width", x1 - x0).attr("height", h).attr("fill", `url(#${id})`);
}
(function () {
  const g = svg.append("g");
  const x = d3.scalePoint().domain(gCols).range([96.7, 246.7]);
  const y = d3.scalePoint().domain(gRows).range([645, 705]);
  const r = d3.scaleSqrt().domain([0, 5]).range([0, 12]);
  const col = d3.scaleLinear().domain([-1.3, 0, 1.8]).range(["#3a5fab", "#f7f7f7", "#d42a26"]).interpolate(d3.interpolateLab);
  const L = 70, R = 274, T = 623.3, B = 725;
  gCols.forEach(c => g.append("line").attr("x1", x(c)).attr("x2", x(c)).attr("y1", T).attr("y2", B).attr("stroke", "#e4e4e4").attr("stroke-width", 0.8));
  gRows.forEach(rw => g.append("line").attr("x1", L).attr("x2", R).attr("y1", y(rw)).attr("y2", y(rw)).attr("stroke", "#e4e4e4").attr("stroke-width", 0.8));
  gRows.forEach((rw, i) => gCols.forEach((c, j) => {
    g.append("circle").attr("cx", x(c)).attr("cy", y(rw)).attr("r", Math.max(r(gFDR[i][j]), 1.7))
      .attr("fill", col(gNES[i][j])).attr("stroke", "#111").attr("stroke-width", 0.8);
  }));
  g.append("rect").attr("x", L).attr("y", T).attr("width", R - L).attr("height", B - T).attr("fill", "none").attr("stroke", "#555").attr("stroke-width", 1);
  gCols.forEach((c, i) => {
    g.append("line").attr("x1", x(c)).attr("x2", x(c)).attr("y1", T).attr("y2", T - 3).attr("stroke", "#222");
    const lines = gColLines[i];
    const t = g.append("text").attr("transform", `translate(${x(c) + 1},${T - 6}) rotate(-58)`).attr("font-size", 9.5).attr("fill", INK);
    lines.forEach((ln, k) => t.append("tspan").attr("x", 0).attr("y", (k - (lines.length - 1) / 2) * 9.8 + 3.2).text(ln));
  });
  gRows.forEach(rw => {
    g.append("line").attr("x1", L).attr("x2", L - 3).attr("y1", y(rw)).attr("y2", y(rw)).attr("stroke", "#222");
    txt(g, 64.5, y(rw) + 3.2, rw, {size: 8.8, anchor: "end"});
  });
  g.append("line").attr("x1", 33.3).attr("x2", 33.3).attr("y1", 626.7).attr("y2", 720).attr("stroke", "#444").attr("stroke-width", 0.8);
  txt(g, 26.5, 673.3, "+/KI vs. WT", {size: 9, anchor: "middle", rotate: -90});
  // size legend
  const lx = [79.3, 97.3, 115.7, 136, 162.7, 190.7];
  gSizeLegend.forEach((v, k) => {
    g.append("circle").attr("cx", lx[k]).attr("cy", 743.3).attr("r", Math.max(r(v), 1.7)).attr("fill", "none").attr("stroke", "#111").attr("stroke-width", 0.8);
    txt(g, lx[k], 764.5, String(v), {size: 7.5, anchor: "middle"});
  });
  txt(g, 136.7, 775.5, [["\u2212log"], ["10", "sub"], ["(FDR)"]], {size: 8.5, anchor: "middle"});
  const dom = [-1.2, 1.7], bx = d3.scaleLinear().domain(dom).range([232.7, 273.3]);
  divergingBar(g, "gNes", col, 232.7, 273.3, 740.7, 7.6, dom);
  gNesTicks.forEach(v => txt(g, bx(v), 761, v < 0 ? "\u2212" + Math.abs(v) : String(v), {size: 8, anchor: "middle"}));
  txt(g, 252.3, 775.5, "NES", {size: 9, anchor: "middle"});
})();
letter(0, 573, "g");

// ---------------- h Venn ----------------
(function () {
  const g = svg.append("g");
  // ellipse layout for each disease set
  const shapes = {
    "Microcephaly": {cx: 396.7, cy: 703.5, rx: 62, ry: 45, rot: -32, fill: "#f2a2dc"},
    "Intellectual disability": {cx: 445.8, cy: 708.8, rx: 50, ry: 43, rot: -20, fill: "#fff4a6"},
    "ASD": {cx: 412, cy: 645, rx: 38.7, ry: 43.3, rot: 0, fill: "#dbe8a4"},
    "Schizophrenia": {cx: 481.7, cy: 640.8, rx: 42.7, ry: 42.5, rot: 0, fill: "#b9e1f4"},
    "ADHD": {cx: 533, cy: 716.7, rx: 26.3, ry: 40, rot: 0, fill: "#c9a6da"}
  };
  ["Microcephaly", "Intellectual disability", "ASD", "Schizophrenia", "ADHD"].forEach(k => {
    const s = shapes[k];
    g.append("ellipse").attr("cx", s.cx).attr("cy", s.cy).attr("rx", s.rx).attr("ry", s.ry)
      .attr("transform", `rotate(${s.rot},${s.cx},${s.cy})`)
      .attr("fill", s.fill).attr("stroke", "#666").attr("stroke-width", 0.7).style("mix-blend-mode", "multiply");
  });
  const setLabel = {"ASD": [410, 594], "Schizophrenia": [486, 594], "Microcephaly": [368.3, 766], "Intellectual disability": [456.7, 766], "ADHD": [531.7, 766]};
  hSets.forEach(sname => txt(g, setLabel[sname][0], setLabel[sname][1], sname, {size: 9.2, anchor: "middle"}));
  // gene list anchors (left x, first baseline, line step)
  const spot = {"ASD": [391, 629, 13], "ASD+Schizophrenia": [435.7, 645, 12], "Schizophrenia": [471, 619.7, 12.6],
    "ASD+Microcephaly": [386.7, 671.3, 11], "ASD+Microcephaly+ID": [417.7, 680.7, 11], "Schizophrenia+ID": [455, 677.3, 11],
    "Microcephaly": [358.3, 684, 10.95], "Microcephaly+ID": [408.3, 699.7, 10.9], "ID": [460, 713, 10.7], "ADHD": [519.3, 693, 11]};
  hGenes.forEach(d => {
    const [sx, sy, step] = spot[d.region];
    d.genes.forEach((gn, k) => txt(g, sx, sy + k * step, gn, {size: 8.6, italic: true}));
  });
  txt(g, 444, 574, [["Disease-related genes among DEGs for "], ["Chd8", "i"], [" KI at E14.5"]], {size: 8.6, anchor: "middle"});
})();
letter(293, 565, "h");

// ---------------- i published data bubble plot ----------------
(function () {
  const g = svg.append("g");
  const x = d3.scalePoint().domain(d3.range(iCols.length)).range([91, 257.3]);
  const y = d3.scalePoint().domain(iRows).range([894.3, 924]);
  const r = d3.scaleLinear().domain([0, 4]).range([2.1, 10.3]);
  const col = d3.scaleLinear().domain([-2.8, 0, 2.6]).range(["#0d4a96", "#f7f7f7", "#d9352c"]).interpolate(d3.interpolateLab);
  const L = 71.7, R = 278.3, T = 875, B = 941;
  iCols.forEach((c, j) => g.append("line").attr("x1", x(j)).attr("x2", x(j)).attr("y1", T).attr("y2", B).attr("stroke", "#e4e4e4").attr("stroke-width", 0.8));
  iRows.forEach(rw => g.append("line").attr("x1", L).attr("x2", R).attr("y1", y(rw)).attr("y2", y(rw)).attr("stroke", "#e4e4e4").attr("stroke-width", 0.8));
  iRows.forEach((rw, i) => iCols.forEach((c, j) => {
    g.append("circle").attr("cx", x(j)).attr("cy", y(rw)).attr("r", r(iFDR[i][j]))
      .attr("fill", col(iNES[i][j])).attr("stroke", "#111").attr("stroke-width", 0.8);
  }));
  g.append("rect").attr("x", L).attr("y", T).attr("width", R - L).attr("height", B - T).attr("fill", "none").attr("stroke", "#555").attr("stroke-width", 1);
  iCols.forEach((c, j) => {
    g.append("line").attr("x1", x(j)).attr("x2", x(j)).attr("y1", T).attr("y2", T - 3).attr("stroke", "#222");
    txt(g, x(j), 867, c, {size: 8.6, anchor: "middle"});
  });
  iRows.forEach(rw => {
    g.append("line").attr("x1", L).attr("x2", L - 3).attr("y1", y(rw)).attr("y2", y(rw)).attr("stroke", "#222");
    txt(g, 65, y(rw) + 3.2, rw, {size: 8.8, anchor: "end"});
  });
  // header rows
  const subs = [[0, 1, "E14.5 "], [2, 3, "E14.5 "], [4, 5, "E18.5 "]];
  const subExt = subs.map(([a, b, s]) => {
    const x0 = x(a) - 11.6, x1 = x(b) + 15.5;
    txt(g, (x0 + x1) / 2, 849.5, [[s], ["Chd8", "i"], ["+/\u2212", "sup"]], {size: 8.3, anchor: "middle"});
    g.append("line").attr("x1", x0).attr("x2", x1).attr("y1", 853.3).attr("y2", 853.3).attr("stroke", "#444").attr("stroke-width", 0.7);
    return [x0, x1];
  });
  const tops = [[[["Gompers "], ["et al.", "i"], [" 2017"]], [0]], [[["Katayama "], ["et al.", "i"], [" 2016"]], [1, 2]]];
  tops.forEach(([segs, idx]) => {
    const x0 = d3.min(idx, k => subExt[k][0]), x1 = d3.max(idx, k => subExt[k][1]);
    const t = txt(g, (x0 + x1) / 2, 825.8, segs, {size: 8.3, anchor: "middle"});
    const bb = t.node().getBBox();
    g.append("line").attr("x1", Math.min(x0, bb.x)).attr("x2", Math.max(x1, bb.x + bb.width)).attr("y1", 828.5).attr("y2", 828.5).attr("stroke", "#444").attr("stroke-width", 0.7);
  });
  g.append("line").attr("x1", 34.3).attr("x2", 34.3).attr("y1", 879).attr("y2", 938.3).attr("stroke", "#444").attr("stroke-width", 0.8);
  txt(g, 26.5, 908.7, "+/KI vs. WT", {size: 9, anchor: "middle", rotate: -90});
  // legends
  const lx = [94, 109.3, 127.7, 153.3];
  iSizeLegend.forEach((v, k) => {
    g.append("circle").attr("cx", lx[k]).attr("cy", 960).attr("r", r(v)).attr("fill", "none").attr("stroke", "#111").attr("stroke-width", 0.8);
    txt(g, lx[k], 977, String(v), {size: 8, anchor: "middle"});
  });
  txt(g, 126.7, 991, [["\u2212log"], ["10", "sub"], ["(FDR)"]], {size: 8.5, anchor: "middle"});
  const dom = [-2.7, 3.0], bx = d3.scaleLinear().domain(dom).range([215, 256.7]);
  divergingBar(g, "iNes", col, 215, 256.7, 956.7, 7.6, dom);
  iNesTicks.forEach(v => txt(g, bx(v), 975, v < 0 ? "\u2212" + Math.abs(v) : String(v), {size: 8, anchor: "middle"}));
  txt(g, 233.3, 988.5, "NES", {size: 9, anchor: "middle"});
})();
letter(3, 806, "i");

// ---------------- j correlation scatters ----------------
function scatter(p) {
  const g = svg.append("g");
  const x = d3.scaleLinear().domain(p.xd).range([p.l, p.r]);
  const y = d3.scaleLinear().domain(p.yd).range([p.b, p.t]);
  g.selectAll("circle").data(p.pts).join("circle")
    .attr("cx", d => x(d[0])).attr("cy", d => y(d[1])).attr("r", 2.3).attr("fill", "#1d59a4");
  const f = p.fit;
  g.append("line").attr("x1", x(f.from)).attr("y1", y(f.intercept + f.slope * f.from))
    .attr("x2", x(f.to)).attr("y2", y(f.intercept + f.slope * f.to)).attr("stroke", "#444").attr("stroke-width", 1.3);
  g.append("rect").attr("x", p.l).attr("y", p.t).attr("width", p.r - p.l).attr("height", p.b - p.t).attr("fill", "none").attr("stroke", "#333").attr("stroke-width", 1);
  const ax = g.append("g").attr("transform", `translate(0,${p.b})`)
    .call(d3.axisBottom(x).tickValues(p.xt).tickFormat(fmt1).tickSize(4).tickPadding(3.5));
  styleAxis(ax, 8.3);
  const ay = g.append("g").attr("transform", `translate(${p.l},0)`)
    .call(d3.axisLeft(y).tickValues(p.yt).tickFormat(fmt1).tickSize(4).tickPadding(4));
  styleAxis(ay, 8.3);
  p.stats.forEach((s, k) => txt(g, p.l + 7, 952.3 + k * 10, s, {size: 8.5}));
  txt(g, (p.l + p.r) / 2, 996.3, [["log"], ["2", "sub"], ["(fold change): +/KI vs. WT (E14.5)"]], {size: 8.2, anchor: "middle"});
  txt(g, p.y1x, p.y1c, [[p.author + " "], ["et al.", "i"], [" " + p.year]], {size: 8.2, anchor: "middle", rotate: -90});
  txt(g, p.y2x, p.y2c, [["log"], ["2", "sub"], ["(fold change): "], ["Chd8", "i"], ["+/\u2212", "sup"], [" vs. WT (E14.5)"]], {size: 8.2, anchor: "middle", rotate: -90});
}
scatter({l: 359.3, r: 489, t: 839.3, b: 966.7, xd: [-1.195, 1.164], yd: [-0.54, 0.999],
  xt: [-1, -0.5, 0, 0.5, 1], yt: [-0.4, 0, 0.4, 0.8], pts: jKat, fit: jKatFit,
  stats: [[["R = \u22120.3365"]], [["P", "i"], [" < 0.001"], ["***", "sup"]]],
  author: "Katayama", year: "2016", y1x: 323.7, y1c: 893.3, y2x: 336.3, y2c: 907.5});
scatter({l: 572.3, r: 712.3, t: 840, b: 966.7, xd: [-0.674, 0.873], yd: [-0.66, 0.402],
  xt: [-0.6, -0.4, -0.2, 0, 0.2, 0.4, 0.6, 0.8], yt: [-0.6, -0.4, -0.2, 0, 0.2, 0.4], pts: jGom, fit: jGomFit,
  stats: [[["R = \u22120.2310"]], [["P", "i"], [" = 0.008"], ["**", "sup"]]],
  author: "Gompers", year: "2017", y1x: 526.3, y1c: 899, y2x: 537.3, y2c: 911});
txt(svg, 528.8, 803, [["Correlation of DEGs in "], ["Chd8", "i"], [" KI at E14.5"]], {size: 8.8, anchor: "middle"});
svg.append("line").attr("x1", 359.3).attr("x2", 711.7).attr("y1", 811).attr("y2", 811).attr("stroke", "#555").attr("stroke-width", 0.8);
letter(300, 802, "j");
</script>
</body>
</html>
